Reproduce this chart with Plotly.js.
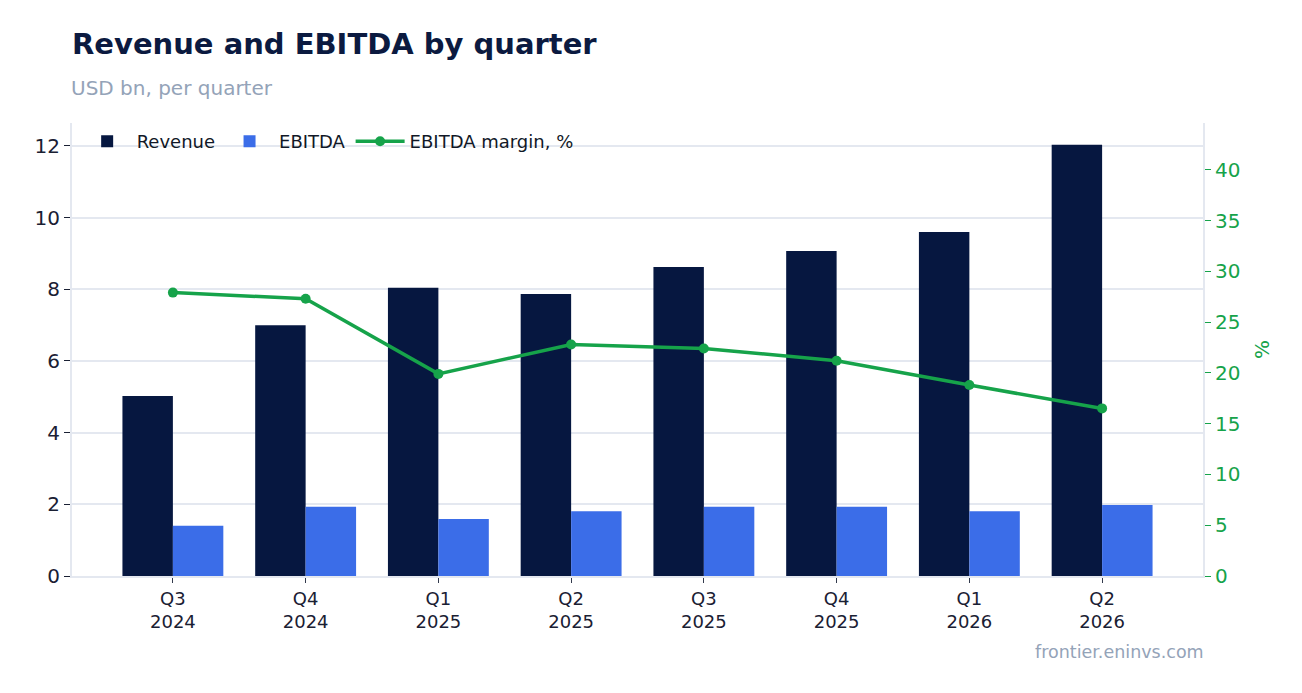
<!DOCTYPE html>
<html>
<head>
<meta charset="utf-8">
<script src="https://cdn.plot.ly/plotly-3.0.1.min.js"></script>
<style>
  html, body { margin: 0; padding: 0; background: #fff; }
  #chart { width: 1302px; height: 693px; }
</style>
</head>
<body>
<div id="chart"></div>
<script>
const quarters = ["Q3<br>2024", "Q4<br>2024", "Q1<br>2025", "Q2<br>2025",
                  "Q3<br>2025", "Q4<br>2025", "Q1<br>2026", "Q2<br>2026"];
const revenue = [5.02, 7.0, 8.04, 7.87, 8.62, 9.07, 9.6, 12.03];
const ebitda = [1.4, 1.93, 1.59, 1.81, 1.93, 1.93, 1.81, 1.98];
const margin = [27.9, 27.3, 19.9, 22.8, 22.4, 21.2, 18.8, 16.5];

const navy = "#061740";
const blue = "#3b6de8";
const green = "#16a34a";
const grid = "#e4e8f0";
const font = "DejaVu Sans, sans-serif";

const traces = [
  {
    type: "bar",
    name: "Revenue",
    legendgroup: "rev",
    x: quarters,
    y: revenue,
    marker: { color: navy },
  },
  {
    type: "bar",
    name: "EBITDA",
    legendgroup: "ebitda",
    x: quarters,
    y: ebitda,
    marker: { color: blue },
  },
  {
    type: "scatter",
    mode: "lines+markers",
    name: "EBITDA margin, %",
    legendgroup: "margin",
    x: quarters,
    y: margin,
    yaxis: "y2",
    line: { color: green, width: 3.5 },
    marker: { color: green, size: 10 },
  },
];

const layout = {
  width: 1302,
  height: 693,
  paper_bgcolor: "#ffffff",
  plot_bgcolor: "#ffffff",
  font: { family: font, color: "#1a2033" },
  margin: { l: 72, r: 99, t: 123, b: 117 },
  barmode: "group",
  bargap: 0.24,
  bargroupgap: 0,
  title: {
    text: "<b>Revenue and EBITDA by quarter</b>",
    font: { family: font, size: 29, color: "#0b1a40" },
    x: 72 / 1302,
    xanchor: "left",
    xref: "container",
    y: 1 - 44 / 693,
    yanchor: "middle",
    yref: "container",
  },
  legend: {
    orientation: "h",
    x: 0.005,
    xanchor: "left",
    y: 1.0,
    yanchor: "top",
    bgcolor: "rgba(255,255,255,0)",
    font: { family: font, size: 18, color: "#111827" },
    itemwidth: 49,
    traceorder: "grouped",
    tracegroupgap: 28,
  },
  xaxis: {
    type: "category",
    range: [-0.76, 7.76],
    showgrid: false,
    showline: true,
    linecolor: grid,
    linewidth: 2,
    ticks: "outside",
    ticklen: 5,
    tickcolor: "#333a4d",
    tickfont: { family: font, size: 18, color: "#1a2033" },
  },
  yaxis: {
    range: [0, 12.64],
    dtick: 2,
    showgrid: true,
    gridcolor: grid,
    gridwidth: 2,
    zeroline: false,
    showline: true,
    linecolor: grid,
    linewidth: 2,
    ticks: "outside",
    ticklen: 6,
    tickcolor: "#1a2033",
    tickfont: { family: font, size: 20, color: "#1a2033" },
  },
  yaxis2: {
    overlaying: "y",
    side: "right",
    range: [0, 44.6],
    dtick: 5,
    showgrid: false,
    zeroline: false,
    showline: true,
    linecolor: grid,
    linewidth: 2,
    ticks: "outside",
    ticklen: 6,
    tickcolor: green,
    tickfont: { family: font, size: 20, color: green },
    title: { text: "%", font: { family: font, size: 20, color: green }, standoff: 16 },
  },
  annotations: [
    {
      text: "USD bn, per quarter",
      xref: "paper",
      yref: "paper",
      x: 0,
      xanchor: "left",
      xshift: -3,
      y: 1 + (123 - 88) / 453,
      yanchor: "middle",
      showarrow: false,
      font: { family: font, size: 20, color: "#94a3b8" },
    },
    {
      text: "frontier.eninvs.com",
      xref: "paper",
      yref: "paper",
      x: 1,
      xanchor: "right",
      xshift: 3,
      y: -(652 - 576) / 453,
      yanchor: "middle",
      showarrow: false,
      font: { family: font, size: 17.5, color: "#94a3b8" },
    },
  ],
};

Plotly.newPlot("chart", traces, layout, { displayModeBar: false, staticPlot: true });
</script>
</body>
</html>
